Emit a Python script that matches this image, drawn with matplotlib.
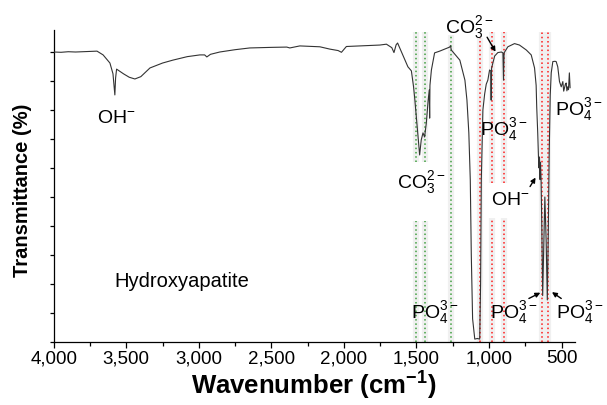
import matplotlib
matplotlib.use("Agg")
import matplotlib.pyplot as plt
from matplotlib.ticker import FixedLocator, MultipleLocator

plt.rcParams["font.family"] = ["Liberation Sans", "DejaVu Sans"]
plt.rcParams["mathtext.fontset"] = "custom"
plt.rcParams["mathtext.rm"] = "Liberation Sans"
plt.rcParams["mathtext.it"] = "Liberation Sans:italic"
plt.rcParams["mathtext.bf"] = "Liberation Sans:bold"

# FTIR spectrum of hydroxyapatite (wavenumber in cm-1, transmittance in %)
wavenumber = [
    4000, 3950, 3900, 3850, 3800, 3750, 3702, 3660, 3613, 3592, 3582, 3579,
    3574, 3567, 3520, 3480, 3441, 3400, 3337, 3250, 3179, 3080, 2993, 2960,
    2945, 2920, 2856, 2750, 2649, 2500, 2394, 2373, 2304, 2166, 2097, 2040,
    2017, 1983, 1850, 1753, 1707, 1670, 1655, 1640, 1630, 1581, 1559, 1535,
    1520, 1512, 1497, 1478, 1467, 1455, 1444, 1432, 1420, 1412, 1409, 1407,
    1397, 1375, 1340, 1285, 1271, 1265, 1260, 1201, 1166, 1152, 1139, 1129,
    1122, 1113, 1098, 1080, 1064, 1058, 1053, 1042, 1030, 1019, 1008, 996,
    988, 985, 982, 961, 939, 915, 904, 900, 896, 870, 824, 790, 743, 709,
    686, 675, 671, 664, 659, 655, 652, 648, 645, 641, 636, 630, 624, 615,
    606, 598, 592, 585, 578, 571, 560, 545, 537, 530, 526, 514, 502, 491,
    485, 480, 474, 468, 463, 457, 452, 446, 441,
]
transmittance = [
    100.0, 99.9, 100.1, 100.0, 100.1, 100.2, 100.3, 99.0, 96.2, 92.5, 87.0, 85.2,
    91.0, 94.1, 92.5, 91.3, 90.7, 91.5, 94.5, 96.2, 97.2, 98.4, 99.0, 99.0,
    98.3, 99.2, 100.0, 100.8, 101.4, 101.6, 101.7, 101.4, 102.1, 101.8, 101.0, 100.5,
    99.9, 101.9, 102.2, 102.4, 102.7, 101.5, 99.8, 102.5, 103.1, 97.5, 94.9, 93.5,
    88.0, 84.0, 75.5, 64.5, 69.7, 72.1, 70.7, 75.5, 83.0, 86.9, 77.2, 88.5,
    93.8, 99.7, 100.3, 101.4, 101.7, 102.2, 100.7, 97.2, 90.3, 83.4, 72.1, 55.9,
    30.0, 8.0, 1.0, 1.2, 1.0, 20.0, 55.9, 80.0, 85.5, 88.9, 90.3, 93.8,
    93.5, 83.4, 94.5, 98.6, 99.8, 100.0, 99.7, 90.3, 99.7, 101.8, 102.9, 102.4, 100.7, 99.0,
    94.5, 88.5, 81.0, 72.0, 63.8, 60.0, 63.8, 56.0, 62.0, 55.9, 40.0, 16.0, 30.0, 50.0,
    35.0, 14.5, 35.0, 65.0, 85.0, 92.8, 96.7, 96.8, 96.7, 95.5, 94.9, 89.8, 88.0, 89.8,
    86.5, 87.5, 88.8, 89.3, 86.6, 88.0, 87.0, 92.8, 87.7,
]

# Band assignments marked with dotted guide lines (cm-1)
carbonate_bands = [1506, 1444, 1260]
phosphate_bands = [1060, 980, 898, 633, 594]

xtick_values = [4000, 3500, 3000, 2500, 2000, 1500, 1000, 500]
xtick_labels = ["4,000", "3,500", "3,000", "2,500", "2,000", "1,500", "1,000", "500"]
ytick_values = [0, 10, 20, 30, 40, 50, 60, 70, 80, 90, 100]

fig = plt.figure(figsize=(6.07, 4.05), dpi=100)
ax = fig.add_axes([0.0886, 0.1556, 0.8580, 0.7704])

green = "#3f9f3f"
red = "#ff1a1a"
haze = "#f0f0f0"


def guide(x, segments, color):
    for lo, hi in segments:
        ax.plot([x, x], [lo, hi], color=haze, lw=4.5, zorder=0.5,
                solid_capstyle="butt")
        ax.plot([x, x], [lo, hi], color=color, lw=1.1, ls=(0, (1, 1.8)),
                zorder=1)


guide(carbonate_bands[0], [(0, 41.7), (62.1, 106.9)], green)
guide(carbonate_bands[1], [(0, 41.7), (62.1, 106.9)], green)
guide(carbonate_bands[2], [(0, 106.0)], green)
guide(phosphate_bands[0], [(0, 104.8)], red)
guide(phosphate_bands[1], [(0, 42.8), (54.8, 106.9)], red)
guide(phosphate_bands[2], [(0, 42.8), (54.8, 107.0)], red)
guide(phosphate_bands[3], [(0, 107.0)], red)
guide(phosphate_bands[4], [(0, 107.0)], red)

ax.plot(wavenumber, transmittance, color="#333333", lw=0.8, zorder=3)

ax.set_xlim(4000, 410)
ax.set_ylim(0, 107.6)

ax.xaxis.set_major_locator(FixedLocator(xtick_values))
ax.set_xticklabels(xtick_labels)
ax.xaxis.set_minor_locator(MultipleLocator(250))
ax.yaxis.set_major_locator(FixedLocator(ytick_values))
ax.set_yticklabels([])

for side in ("top", "right"):
    ax.spines[side].set_visible(False)
for side in ("left", "bottom"):
    ax.spines[side].set_linewidth(0.9)

ax.tick_params(axis="x", which="major", direction="out", length=4.5, width=0.9,
               labelsize=13.5, pad=1.5)
ax.tick_params(axis="x", which="minor", direction="out", length=2.8, width=0.9)
ax.tick_params(axis="y", which="major", direction="out", length=3, width=0.9)

ax.set_xlabel(r"Wavenumber (cm$^{\mathbf{-1}}$)", fontsize=18.5,
              fontweight="bold")
ax.xaxis.set_label_coords(0.5, -0.09)
ax.set_ylabel("Transmittance (%)", fontsize=14.5, fontweight="bold")
ax.yaxis.set_label_coords(-0.042, 0.485)

ion_fs = 14
po4 = r"PO$_4^{3-}$"
co3 = r"CO$_3^{2-}$"
oh = r"OH$^{-}$"

labels = [
    (oh, 3705, 75.6),
    (co3, 1306, 106.6),
    (po4, 1060, 71.4),
    (po4, 543, 78.3),
    (co3, 1634, 53.1),
    (oh, 989, 47.2),
    (po4, 1535, 8.3),
    (po4, 996, 8.3),
    (po4, 541, 8.3),
]
for text, x, y in labels:
    ax.text(x, y, text, fontsize=ion_fs, ha="left", va="baseline", zorder=2,
            clip_on=False)

ax.text(3579, 19.1, "Hydroxyapatite", fontsize=14.5, ha="left",
        va="baseline", zorder=2)

arrows = [
    ((1013, 105.1), (955, 100.1)),
    ((717, 53.6), (679, 56.7)),
    ((725, 15.0), (646, 17.0)),
    ((502, 15.0), (566, 17.2)),
]
for tail, tip in arrows:
    ax.annotate("", xy=tip, xytext=tail, zorder=4,
                arrowprops=dict(arrowstyle="-|>", color="black", lw=1.0,
                                mutation_scale=7, shrinkA=0, shrinkB=0))

fig.savefig("out.png", dpi=100)
